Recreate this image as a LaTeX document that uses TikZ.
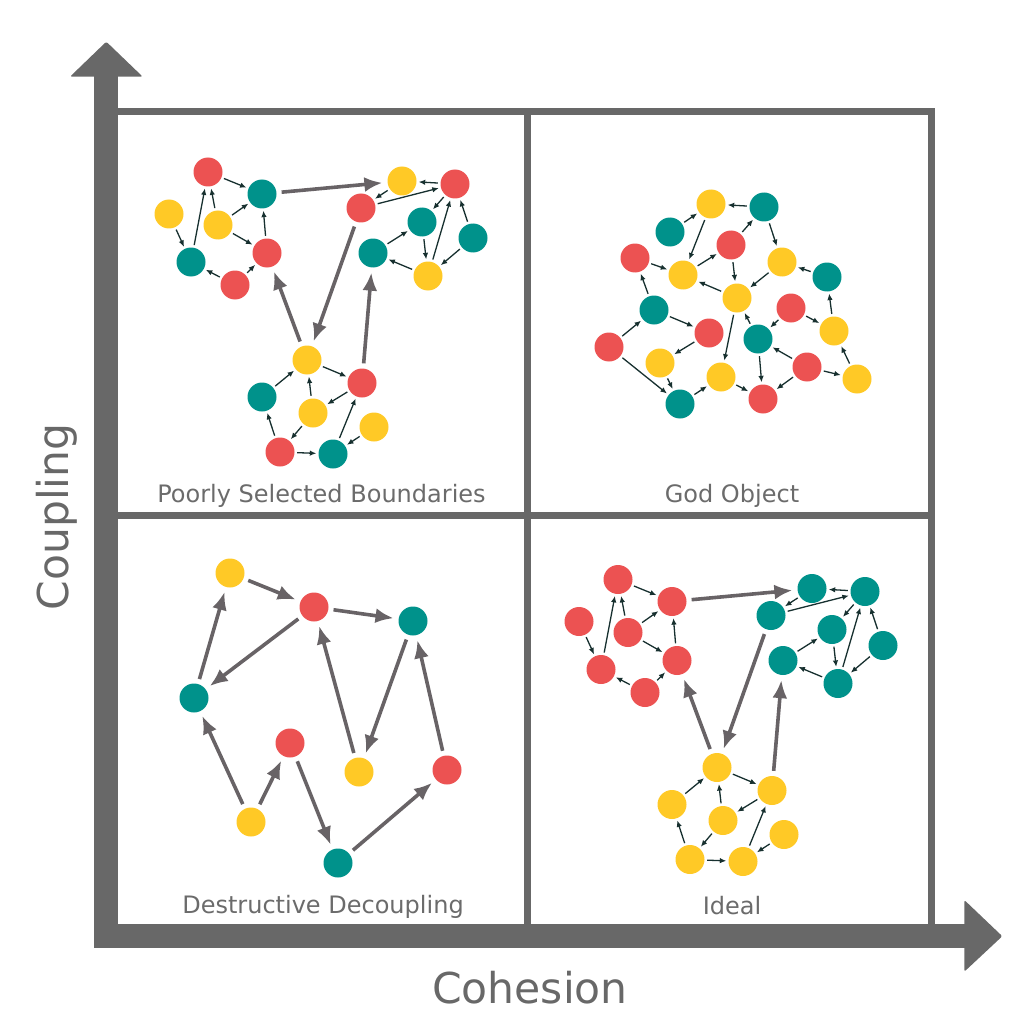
\documentclass[tikz,border=0pt]{standalone}
\usepackage{fontspec}
\setmainfont{DejaVu Sans}
\usetikzlibrary{arrows.meta}

\definecolor{dotred}{HTML}{EC5252}
\definecolor{dotteal}{HTML}{00928B}
\definecolor{dotyellow}{HTML}{FFC926}
\definecolor{axisgray}{HTML}{686868}
\definecolor{flowgray}{HTML}{686366}
\definecolor{linkdark}{HTML}{17302F}
\definecolor{labelgray}{HTML}{6B6B6B}

\tikzset{
  dot/.style={circle,inner sep=0pt,minimum size=29pt,draw=none},
  link/.style={draw=linkdark,line width=1.3pt,-{Latex[length=6.5pt,width=5.5pt]},shorten <=2.5pt,shorten >=2pt},
  flow/.style={draw=flowgray,line width=3.6pt,-{Latex[length=18pt,width=15pt]},shorten <=5pt,shorten >=5pt},
  frame/.style={draw=axisgray,line width=6.7pt},
  quadlabel/.style={text=labelgray,font=\fontsize{24}{28}\selectfont,anchor=base},
  axislabel/.style={text=axisgray,font=\fontsize{42.5}{48}\selectfont,anchor=base}
}

% the three modules (name/x/y/colour in the mixed version)
\newcommand{\spotsA}{a1/208/172/dotred,a2/262/194/dotteal,a3/169/214/dotyellow,a4/218/225/dotyellow,
  a5/191/262/dotteal,a6/267/253/dotred,a7/235/285/dotred}
\newcommand{\spotsB}{b1/402/181/dotyellow,b2/455/184/dotred,b3/361/208/dotred,b4/422/222/dotteal,
  b5/473/238/dotteal,b6/373/253/dotteal,b7/428/276/dotyellow}
\newcommand{\spotsC}{c1/307/360/dotyellow,c2/362/383/dotred,c3/262/397/dotteal,c4/313/413/dotyellow,
  c5/374/427/dotyellow,c6/280/452/dotred,c7/333/454/dotteal}

\newcommand{\modularlinks}[1]{%
  \foreach \s/\t in {a1/a2,a4/a1,a5/a1,a4/a2,a4/a6,a6/a2,a3/a5,a7/a5,a7/a6,
      b2/b1,b1/b3,b3/b2,b2/b4,b4/b7,b7/b2,b5/b2,b5/b7,b6/b4,b7/b6,
      c3/c1,c1/c2,c4/c1,c2/c4,c6/c3,c4/c6,c6/c7,c7/c2,c5/c7}
    \draw[link] (#1\s) -- (#1\t);
  \foreach \s/\t in {a2/b1,b3/c1,c1/a6,c2/b6}
    \draw[flow] (#1\s) -- (#1\t);
}

\begin{document}
\begin{tikzpicture}[x=1pt,y=-1pt]
\useasboundingbox (0,0) rectangle (1024,1024);

% axes
\fill[axisgray] (94.3,948.3) rectangle (118.3,76);
\fill[axisgray,rounded corners=2pt] (70,76.7) -- (106.3,41.7) -- (142.7,76.7) -- cycle;
\fill[axisgray] (94.3,924.3) rectangle (965,948.3);
\fill[axisgray,rounded corners=2pt] (964.3,900) -- (1002.3,936.2) -- (964.3,971.7) -- cycle;

% quadrants
\draw[frame] (118.3,111.7) -| (931.3,924.3);
\draw[frame] (527.7,111.7) -- (527.7,924.3);
\draw[frame] (118.3,515.7) -- (931.3,515.7);

\node[axislabel] (cohesion) at (530,1003.3) {Cohesion};
\node[axislabel,rotate=90] (coupling) at (68,517) {Coupling};

% poorly selected boundaries
\foreach \n/\x/\y/\c in \spotsA \node[dot,fill=\c] (p\n) at (\x,\y) {};
\foreach \n/\x/\y/\c in \spotsB \node[dot,fill=\c] (p\n) at (\x,\y) {};
\foreach \n/\x/\y/\c in \spotsC \node[dot,fill=\c] (p\n) at (\x,\y) {};
\modularlinks{p}
\node[quadlabel] (poorly) at (321.5,502.3) {Poorly Selected Boundaries};

% ideal: same modules, one colour each
\begin{scope}[shift={(410,407.5)}]
\foreach \n/\x/\y/\c in \spotsA \node[dot,fill=dotred] (i\n) at (\x,\y) {};
\foreach \n/\x/\y/\c in \spotsB \node[dot,fill=dotteal] (i\n) at (\x,\y) {};
\foreach \n/\x/\y/\c in \spotsC \node[dot,fill=dotyellow] (i\n) at (\x,\y) {};
\modularlinks{i}
\end{scope}
\node[quadlabel] (ideal) at (732,914) {Ideal};

% god object
\foreach \n/\x/\y/\c in {g1/711/204/dotyellow,g2/764/207/dotteal,g3/670/232/dotteal,g4/731/245/dotred,
    g5/635/258/dotred,g6/683/275/dotyellow,g7/782/262/dotyellow,g8/827/277/dotteal,g9/737/298/dotyellow,
    g10/791/308/dotred,g11/654/310/dotteal,g12/709/333/dotred,g13/834/331/dotyellow,g14/758/339/dotteal,
    g15/609/347/dotred,g16/660/363/dotyellow,g17/807/367/dotred,g18/721/377/dotyellow,
    g19/857/379/dotyellow,g20/763/399/dotred,g21/680/404/dotteal}
  \node[dot,fill=\c] (\n) at (\x,\y) {};
\foreach \s/\t in {g2/g1,g3/g1,g1/g6,g4/g2,g6/g4,g2/g7,g5/g6,g4/g9,g7/g9,g9/g6,g8/g7,
    g11/g5,g15/g11,g11/g12,g12/g16,g16/g21,g15/g21,g21/g18,g9/g18,g14/g9,g10/g14,
    g10/g13,g13/g8,g14/g20,g18/g20,g17/g14,g17/g20,g17/g19,g19/g13}
  \draw[link] (\s) -- (\t);
\node[quadlabel] (god) at (732,502.3) {God Object};

% destructive decoupling
\foreach \n/\x/\y/\c in {d1/230/573/dotyellow,d2/314/607/dotred,d3/413/621/dotteal,
    d4/194/698/dotteal,d5/290/743/dotred,d6/359/772/dotyellow,d7/447/770/dotred,
    d8/251/822/dotyellow,d9/338/863/dotteal}
  \node[dot,fill=\c] (\n) at (\x,\y) {};
\foreach \s/\t in {d4/d1,d1/d2,d2/d3,d2/d4,d6/d2,d3/d6,d7/d3,d8/d4,d8/d5,d5/d9,d9/d7}
  \draw[flow] (\s) -- (\t);
\node[quadlabel] (destructive) at (323,913) {Destructive Decoupling};
\end{tikzpicture}
\end{document}
